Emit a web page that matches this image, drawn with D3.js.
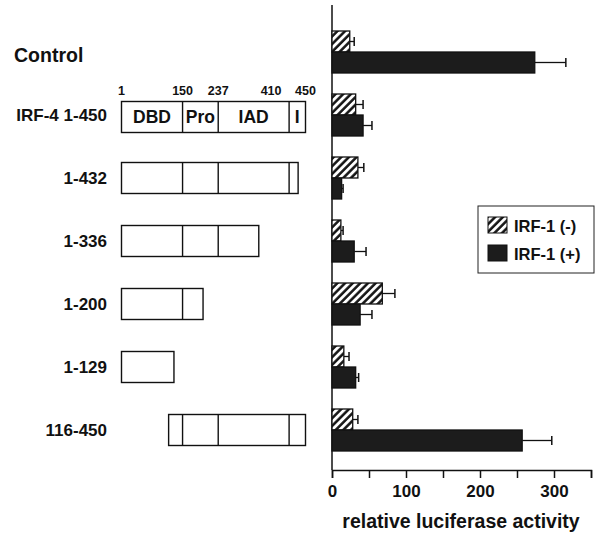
<!DOCTYPE html>
<html><head><meta charset="utf-8">
<script src="https://cdn.jsdelivr.net/npm/d3@7"></script>
<style>body{margin:0;background:#fff}svg{display:block;font-family:"Liberation Sans",Arial,sans-serif;font-weight:bold}</style>
</head><body><svg id="c" width="597" height="534"></svg>
<script>
const constructs = ["Control","IRF-4 1-450","1-432","1-336","1-200","1-129","116-450"];
const starts = [null,1,1,1,1,1,116];
const ends = [null,450,432,336,200,129,450];
const domainBounds = [1,150,237,410,450];
const domainNames = ["DBD","Pro","IAD","I"];
const seriesNames = ["IRF-1 (-)","IRF-1 (+)"];
const irf1Neg = [24,32,35,12,68,16,28];
const irf1NegErr = [6,10,8,3,17,7,7];
const irf1Pos = [274,42,13,30,38,32,257];
const irf1PosErr = [42,12,2,16,16,4,40];
const xTicks = [0,50,100,150,200,250,300,350];
const xTickLabels = [0,100,200,300];

const svg = d3.select("#c");
const defs = svg.append("defs");
const pat = defs.append("pattern").attr("id","hatch").attr("patternUnits","userSpaceOnUse")
  .attr("width",5.4).attr("height",5.4).attr("patternTransform","rotate(45)");
pat.append("rect").attr("width",5.4).attr("height",5.4).attr("fill","#fff");
pat.append("line").attr("x1",1.4).attr("y1",0).attr("x2",1.4).attr("y2",5.4).attr("stroke","#111").attr("stroke-width",2.5);

const y = d3.scaleBand().domain(constructs).range([20.5,461.5]);
const ySub = d3.scaleBand().domain(seriesNames).range([0,y.bandwidth()]).paddingOuter(0.5);
const x = d3.scaleLinear().domain([0,350]).range([332,591]);
const aa = d3.scaleLinear().domain([1,450]).range([121.5,305.5]);

// bar chart axes
svg.append("line").attr("x1",x(0)).attr("x2",x(0)).attr("y1",5).attr("y2",470).attr("stroke","#111").attr("stroke-width",1.5);
const xAxis = svg.append("g").attr("transform","translate(0,470)")
  .call(d3.axisBottom(x).tickValues(xTicks).tickSize(8).tickFormat(d => xTickLabels.includes(d) ? d : ""));
xAxis.select(".domain").attr("stroke","#111").attr("stroke-width",1.5);
xAxis.selectAll(".tick line").attr("stroke","#111").attr("stroke-width",1.5);
xAxis.selectAll(".tick text").attr("font-size",17).attr("font-family","Liberation Sans, Arial, sans-serif").attr("font-weight","bold").attr("fill","#111").attr("dy","0.95em");
svg.append("text").attr("x",461).attr("y",528).attr("text-anchor","middle").attr("font-size",19.5).attr("fill","#111").text("relative luciferase activity");

const series = [
  {name:seriesNames[0], vals:irf1Neg, errs:irf1NegErr, fill:"url(#hatch)"},
  {name:seriesNames[1], vals:irf1Pos, errs:irf1PosErr, fill:"#1c1c1c"}
];
series.forEach(s => {
  const g = svg.append("g");
  constructs.forEach((c,i) => {
    const y0 = y(c) + ySub(s.name), h = ySub.bandwidth();
    const xm = x(s.vals[i]), xe = x(s.vals[i] + s.errs[i]);
    g.append("line").attr("x1",xm).attr("x2",xe).attr("y1",y0+h/2).attr("y2",y0+h/2).attr("stroke","#111").attr("stroke-width",1.3);
    g.append("line").attr("x1",xe).attr("x2",xe).attr("y1",y0+h/2-4.5).attr("y2",y0+h/2+4.5).attr("stroke","#111").attr("stroke-width",1.5);
    g.append("rect").attr("x",x(0)).attr("y",y0).attr("width",xm-x(0)).attr("height",h)
      .attr("fill",s.fill).attr("stroke","#111").attr("stroke-width",1.3);
  });
});

// legend
svg.append("rect").attr("x",478).attr("y",206).attr("width",116).attr("height",67).attr("fill","#fff").attr("stroke","#222").attr("stroke-width",1);
series.forEach((s,i) => {
  svg.append("rect").attr("x",488).attr("y",217+i*28).attr("width",19).attr("height",16).attr("fill",s.fill).attr("stroke","#111").attr("stroke-width",1);
  svg.append("text").attr("x",514).attr("y",232+i*28).attr("font-size",16.5).attr("fill","#111").text(s.name);
});

// left labels
constructs.forEach((c,i) => {
  const cy = y(c) + y.bandwidth()/2;
  if (i === 0) {
    svg.append("text").attr("x",14).attr("y",cy+10).attr("font-size",19.5).attr("fill","#111").text(c);
  } else {
    svg.append("text").attr("x",107).attr("y",cy+6).attr("text-anchor","end").attr("font-size",17).attr("fill","#111").text(c);
  }
});

// protein diagrams
constructs.forEach((c,i) => {
  if (starts[i] === null) return;
  const cy = y(c) + y.bandwidth()/2 + (i === 1 ? 2 : 0), bh = 31;
  const g = svg.append("g");
  g.append("rect").attr("x",aa(starts[i])).attr("y",cy-bh/2).attr("width",aa(ends[i])-aa(starts[i])).attr("height",bh)
    .attr("fill","#fff").attr("stroke","#111").attr("stroke-width",1.4);
  domainBounds.filter(b => b > starts[i] && b < ends[i]).forEach(b => {
    g.append("line").attr("x1",aa(b)).attr("x2",aa(b)).attr("y1",cy-bh/2).attr("y2",cy+bh/2).attr("stroke","#111").attr("stroke-width",1.4);
  });
  if (i === 1) {
    domainNames.forEach((n,k) => {
      g.append("text").attr("x",(aa(domainBounds[k])+aa(domainBounds[k+1]))/2).attr("y",cy+6).attr("text-anchor","middle").attr("font-size",17.5).attr("fill","#111").text(n);
    });
    domainBounds.forEach(b => {
      g.append("text").attr("x",aa(b)).attr("dx", b === 410 ? -18 : 0).attr("y",cy-bh/2-7).attr("text-anchor","middle").attr("font-size",12.5).attr("fill","#111").text(b);
    });
  }
});
</script></body></html>
